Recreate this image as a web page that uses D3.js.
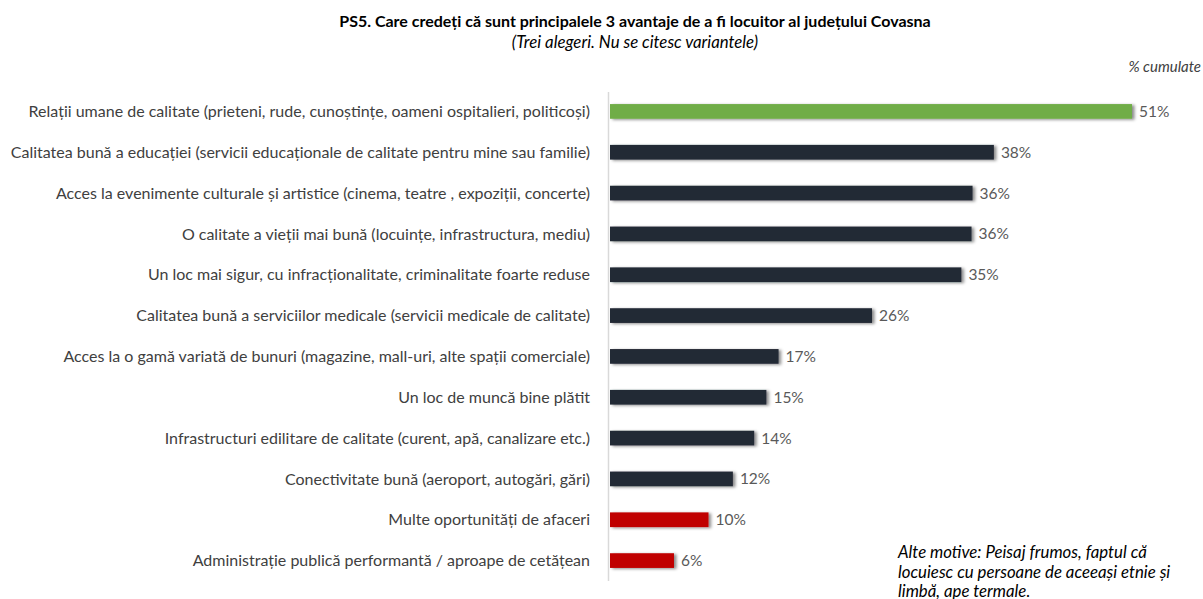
<!DOCTYPE html>
<html>
<head>
<meta charset="utf-8">
<script src="https://cdn.jsdelivr.net/npm/d3@7"></script>
<style>
  body { margin: 0; background: #fff; }
  text { font-family: Lato, "Liberation Sans", sans-serif; }
</style>
</head>
<body>
<svg id="chart" width="1203" height="599"></svg>
<script>
(function () {

	var categories = [
		'Relații umane de calitate (prieteni, rude, cunoștințe, oameni ospitalieri, politicoși)',
		'Calitatea bună a educației (servicii educaționale de calitate pentru mine sau familie)',
		'Acces la evenimente culturale și artistice (cinema, teatre , expoziții, concerte)',
		'O calitate a vieții mai bună (locuințe, infrastructura, mediu)',
		'Un loc mai sigur, cu infracționalitate, criminalitate foarte reduse ',
		'Calitatea bună a serviciilor medicale (servicii medicale de calitate)',
		'Acces la o gamă variată de bunuri (magazine, mall-uri, alte spații comerciale)',
		'Un loc de muncă bine plătit',
		'Infrastructuri edilitare de calitate (curent, apă, canalizare etc.)',
		'Conectivitate bună (aeroport, autogări, gări)',
		'Multe oportunități de afaceri',
		'Administrație publică performantă / aproape de cetățean'
	];
	var values = [51.4, 37.8, 35.7, 35.6, 34.6, 25.8, 16.6, 15.4, 14.2, 12.1, 9.7, 6.3];
	var groups = ['top', 'mid', 'mid', 'mid', 'mid', 'mid', 'mid', 'mid', 'mid', 'mid', 'low', 'low'];

	var colors = {top: '#70AD47', mid: '#222A35', low: '#C00000'};

	var data = categories.map(function (c, i) {
		return {name: c, value: values[i], group: groups[i]};
	});

	var svg = d3.select('#chart');

	var defs = svg.append('defs');
	var f = defs.append('filter').attr('id', 'shadow')
		.attr('x', '-5%').attr('y', '-50%').attr('width', '115%').attr('height', '200%');
	f.append('feDropShadow')
		.attr('dx', 2.5).attr('dy', 1).attr('stdDeviation', 1.5)
		.attr('flood-color', '#000').attr('flood-opacity', 0.45);

	var x = d3.scaleLinear().domain([0, 51.4]).range([610, 1132]);
	var y = d3.scaleBand().domain(categories).range([91, 581]).paddingInner(0.64).paddingOuter(0.32);

	// title
	svg.append('text')
		.attr('x', 635).attr('y', 27)
		.attr('text-anchor', 'middle')
		.style('font-size', '16px').style('font-weight', 'bold').attr('fill', '#000')
		.text('PS5. Care credeți că sunt principalele 3 avantaje de a fi locuitor al județului Covasna');
	svg.append('text')
		.attr('x', 635).attr('y', 48)
		.attr('text-anchor', 'middle')
		.style('font-size', '16.8px').style('font-style', 'italic').attr('fill', '#000')
		.text('(Trei alegeri. Nu se citesc variantele)');
	svg.append('text')
		.attr('x', 1201).attr('y', 72)
		.attr('text-anchor', 'end')
		.style('font-size', '15px').style('font-style', 'italic').attr('fill', '#404040')
		.text('% cumulate');

	// axis line
	svg.append('line')
		.attr('x1', 608.5).attr('x2', 608.5)
		.attr('y1', 92).attr('y2', 581)
		.attr('stroke', '#d9d9d9').attr('stroke-width', 1.5);

	var rows = svg.selectAll('g.row')
		.data(data)
		.enter().append('g')
		.attr('class', 'row');

	rows.append('rect')
		.attr('x', x(0))
		.attr('y', function (d) { return y(d.name); })
		.attr('height', y.bandwidth())
		.attr('width', function (d) { return x(d.value) - x(0); })
		.attr('fill', function (d) { return colors[d.group]; })
		.attr('filter', 'url(#shadow)');

	rows.append('text')
		.attr('x', 590)
		.attr('y', function (d) { return y(d.name) + y.bandwidth() / 2; })
		.attr('dy', '0.35em')
		.attr('text-anchor', 'end')
		.style('font-size', '16px').attr('fill', '#404040')
		.text(function (d) { return d.name; });

	rows.append('text')
		.attr('x', function (d) { return x(d.value) + 7; })
		.attr('y', function (d) { return y(d.name) + y.bandwidth() / 2; })
		.attr('dy', '0.35em')
		.style('font-size', '15.5px').attr('fill', '#595959')
		.text(function (d) { return Math.round(d.value) + '%'; });

	// note
	var note = ['Alte motive: Peisaj frumos, faptul că', 'locuiesc cu persoane de aceeași etnie și', 'limbă, ape termale.'];
	svg.append('g').selectAll('text')
		.data(note)
		.enter().append('text')
		.attr('x', 898)
		.attr('y', function (d, i) { return 558 + i * 19.5; })
		.style('font-size', '16.8px').style('font-style', 'italic').attr('fill', '#000')
		.text(function (d) { return d; });

})();
</script>
</body>
</html>
